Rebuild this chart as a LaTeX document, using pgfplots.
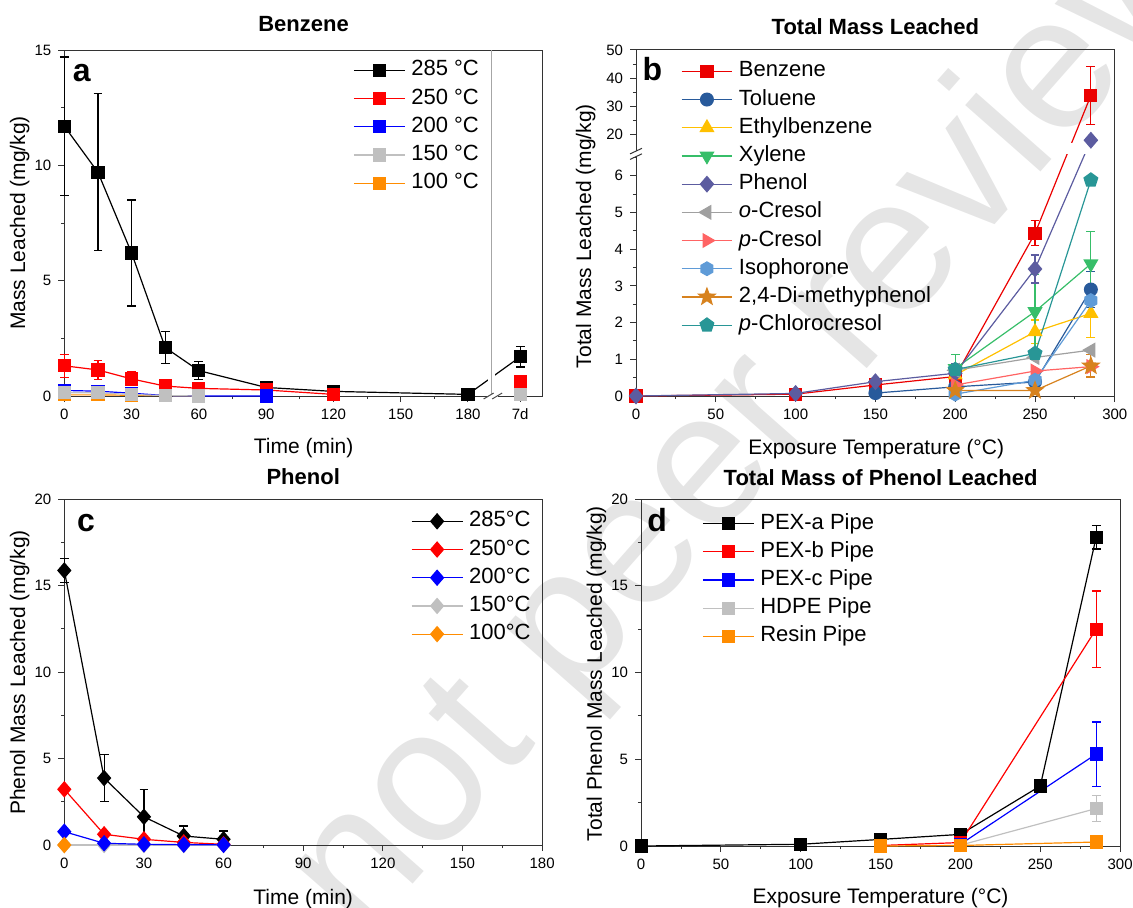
\documentclass[border=0pt]{standalone}
\usepackage{fontspec}
\setmainfont{Liberation Sans}
\usepackage{pgfplots}
\pgfplotsset{compat=1.18}
\usetikzlibrary{plotmarks}

\definecolor{c150}{RGB}{192,192,192}
\definecolor{c100}{RGB}{255,140,0}
\definecolor{cBen}{RGB}{235,0,0}
\definecolor{cTol}{RGB}{40,90,155}
\definecolor{cEth}{RGB}{255,192,0}
\definecolor{cXyl}{RGB}{55,190,105}
\definecolor{cPhe}{RGB}{92,92,160}
\definecolor{cOcr}{RGB}{160,160,160}
\definecolor{cPcr}{RGB}{255,100,100}
\definecolor{cIso}{RGB}{95,155,215}
\definecolor{cDmp}{RGB}{215,130,30}
\definecolor{cChl}{RGB}{40,150,150}
\definecolor{wm}{RGB}{229,229,229}

\pgfdeclareplotmark{hexagon*}{%
  \pgfpathmoveto{\pgfpointpolar{90}{\pgfplotmarksize}}%
  \pgfpathlineto{\pgfpointpolar{150}{\pgfplotmarksize}}%
  \pgfpathlineto{\pgfpointpolar{210}{\pgfplotmarksize}}%
  \pgfpathlineto{\pgfpointpolar{270}{\pgfplotmarksize}}%
  \pgfpathlineto{\pgfpointpolar{330}{\pgfplotmarksize}}%
  \pgfpathlineto{\pgfpointpolar{30}{\pgfplotmarksize}}%
  \pgfpathclose
  \pgfusepathqfillstroke}
\pgfdeclareplotmark{fstar}{%
  \pgfpathmoveto{\pgfpointpolar{90}{\pgfplotmarksize}}%
  \pgfpathlineto{\pgfpointpolar{126}{0.42\pgfplotmarksize}}%
  \pgfpathlineto{\pgfpointpolar{162}{\pgfplotmarksize}}%
  \pgfpathlineto{\pgfpointpolar{198}{0.42\pgfplotmarksize}}%
  \pgfpathlineto{\pgfpointpolar{234}{\pgfplotmarksize}}%
  \pgfpathlineto{\pgfpointpolar{270}{0.42\pgfplotmarksize}}%
  \pgfpathlineto{\pgfpointpolar{306}{\pgfplotmarksize}}%
  \pgfpathlineto{\pgfpointpolar{342}{0.42\pgfplotmarksize}}%
  \pgfpathlineto{\pgfpointpolar{18}{\pgfplotmarksize}}%
  \pgfpathlineto{\pgfpointpolar{54}{0.42\pgfplotmarksize}}%
  \pgfpathclose
  \pgfusepathqfillstroke}

\pgfplotsset{
  panel/.style={
    scale only axis, clip=false,
    axis line style={black!80, line width=0.5pt},
    tick pos=left, tick align=outside,
    major tick length=3pt, minor tick length=1.6pt,
    every tick/.style={black!80, line width=0.5pt},
    /pgf/number format/assume math mode=true,
    tick label style={font=\fontsize{7.5}{9}\selectfont},
    label style={font=\fontsize{10.5}{12}\selectfont},
    every axis title shift=0pt,
    title style={font=\bfseries\fontsize{11}{13}\selectfont, anchor=center},
    legend style={draw=none, fill=none, anchor=north west, inner sep=0pt,
      font=\fontsize{11}{13}\selectfont, row sep=2.4pt,
      nodes={inner sep=0.6pt, text height=8pt, text depth=2.5pt},
      /tikz/every odd column/.append style={column sep=2.4pt}},
    legend cell align=left,
    legend image code/.code={\draw[mark repeat=2,mark phase=2,##1] plot coordinates {(0pt,0pt) (12.7pt,0pt) (25.4pt,0pt)};},
    every axis plot/.append style={line width=0.6pt},
  },
  ser/.style={color=#1, mark options={solid, fill=#1}},
  eb/.style={error bars/y dir=both, error bars/y explicit,
    error bars/error bar style={line width=0.6pt},
    error bars/error mark options={rotate=90, mark size=2.2pt, line width=0.6pt}},
  % panel b: broken axis, 0-6.61 kept, 13.24-50 squeezed above it
  table/bt/.style={x=x,
    y expr={\thisrow{y}>10 ? 6.61+(\thisrow{y}-13.24)*0.07655 : \thisrow{y}},
    y error expr={\thisrow{y}>10 ? \thisrow{e}*0.07655 : \thisrow{e}},
    row sep=\\},
}

\begin{document}
\begin{tikzpicture}
\useasboundingbox (0,0) rectangle (566.5pt,453.5pt);
\node[rotate=48.6, anchor=base west, inner sep=0, text=wm, font=\fontsize{95}{95}\selectfont] at (181.2pt,-17.3pt) {not peer reviewed};

%% (a) Benzene
\begin{axis}[panel, at={(32.15pt,255.5pt)}, anchor=south west, width=239.3pt, height=173pt,
  xmin=0, xmax=213.4, ymin=0, ymax=15,
  xtick={0,30,60,90,120,150,180,203.3}, xticklabels={0,30,60,90,120,150,180,7d},
  minor xtick={15,45,75,105,135,165},
  ytick={0,5,10,15}, minor ytick={2.5,7.5,12.5},
  title={Benzene}, title style={at={(axis description cs:0.5,1.0757)}},
  xlabel={Time (min)}, xlabel style={at={(axis description cs:0.5,-0.151)}, anchor=center},
  ylabel={Mass Leached (mg/kg)}, ylabel style={at={(axis description cs:-0.0934,0.5)}, anchor=center},
  legend style={at={(0.603,0.976)}},
]
\addlegendimage{ser=black, mark=square*, mark size=3pt}\addlegendentry{285 °C}
\addlegendimage{ser=red, mark=square*, mark size=3pt}\addlegendentry{250 °C}
\addlegendimage{ser=blue, mark=square*, mark size=3pt}\addlegendentry{200 °C}
\addlegendimage{ser=c150, mark=square*, mark size=3pt}\addlegendentry{150 °C}
\addlegendimage{ser=c100, mark=square*, mark size=3pt}\addlegendentry{100 °C}

\addplot[forget plot, ser=c100, mark=square*, mark size=3pt] table[row sep=\\] {
x y\\ 0 0.05\\ 15 0.05\\ 30 0.03\\ 45 0.02\\ 60 0\\};
\addplot[forget plot, ser=black, mark=square*, mark size=3pt, eb] table[x=x, y=y, y error=e, row sep=\\] {
x y e\\
0 11.7 3.0\\
15 9.7 3.4\\
30 6.2 2.3\\
45 2.1 0.7\\
60 1.1 0.4\\
90 0.37 0\\
120 0.2 0\\
180 0.07 0\\
203.3 1.7 0.44\\};
\addplot[forget plot, ser=red, mark=square*, mark size=3pt, eb] table[x=x, y=y, y error=e, row sep=\\] {
x y e\\
0 1.31 0.5\\
15 1.13 0.42\\
30 0.74 0.3\\
45 0.43 0\\
60 0.33 0\\
90 0.26 0\\
120 0.07 0\\};
\addplot[forget plot, ser=blue, mark=square*, mark size=3pt] table[row sep=\\] {
x y\\ 0 0.24\\ 15 0.21\\ 30 0.12\\ 45 0.02\\ 60 0\\ 90 0\\};
\addplot[forget plot, ser=c150, mark=square*, mark size=3pt] table[row sep=\\] {
x y\\ 0 0.14\\ 15 0.14\\ 30 0.065\\ 45 0.02\\ 60 0\\};
\addplot[forget plot, only marks, ser=blue, mark=square*, mark size=3pt] table[row sep=\\] {x y\\ 203.3 0.12\\};
\addplot[forget plot, only marks, ser=c150, mark=square*, mark size=3pt] table[row sep=\\] {x y\\ 203.3 0.05\\};
\addplot[forget plot, only marks, ser=red, mark=square*, mark size=3pt] table[row sep=\\] {x y\\ 203.3 0.62\\};
% axis break
\fill[white] (axis cs:188.8,0.5) rectangle (axis cs:192.2,1.1);
\draw[black!35, line width=0.5pt] (axis cs:190.5,0) -- (axis cs:190.5,15);
\draw[white, line width=2pt] (axis cs:188.6,0) -- (axis cs:193.6,0);
\draw[black!70, line width=0.5pt] ([shift={(-2.5pt,-1.5pt)}]axis cs:189.2,0) -- ++(5pt,3pt);
\draw[black!70, line width=0.5pt] ([shift={(-2.5pt,-1.5pt)}]axis cs:193,0) -- ++(5pt,3pt);
\node[anchor=base west, inner sep=0, font=\bfseries\fontsize{16}{16}\selectfont] at (axis description cs:0.017,0.908) {a};
\end{axis}

%% (b) Total Mass Leached
\begin{axis}[panel, at={(318pt,255.5pt)}, anchor=south west, width=239.4pt, height=173pt,
  xmin=0, xmax=300, ymin=0, ymax=9.424,
  xtick={0,50,...,300}, minor xtick={25,75,...,275},
  ytick={0,1,2,3,4,5,6,7.127,7.893,8.658,9.424}, yticklabels={0,1,2,3,4,5,6,20,30,40,50},
  minor ytick={0.5,1.5,2.5,3.5,4.5,5.5,6.5,7.510,8.275,9.041},
  title={Total Mass Leached}, title style={at={(axis description cs:0.5,1.067)}},
  xlabel={Exposure Temperature (°C)}, xlabel style={at={(axis description cs:0.5016,-0.153)}, anchor=center},
  ylabel={Total Mass Leached (mg/kg)}, ylabel style={at={(axis description cs:-0.105,0.462)}, anchor=center},
  legend style={at={(0.093,0.9733)}},
]
\addplot[ser=cBen, mark=square*, mark size=3pt, eb] table[bt] {
x y e\\ 0 0 0\\ 100 0.05 0\\ 150 0.30 0\\ 200 0.53 0\\ 250 4.43 0.34\\ 285 33.8 10.2\\};
\addlegendentry{Benzene}
\addplot[ser=cTol, mark=*, mark size=3.2pt, eb] table[bt] {
x y e\\ 150 0.08 0\\ 200 0.25 0\\ 250 0.38 0\\ 285 2.90 0.5\\};
\addlegendentry{Toluene}
\addplot[ser=cEth, mark=triangle*, mark size=3.8pt, eb] table[bt] {
x y e\\ 200 0.57 0\\ 250 1.75 0.32\\ 285 2.25 0.65\\};
\addlegendentry{Ethylbenzene}
\addplot[ser=cXyl, mark=triangle*, mark size=3.8pt, mark options={solid, fill=cXyl, rotate=180}, eb] table[bt] {
x y e\\ 200 0.75 0.37\\ 250 2.30 1.0\\ 285 3.60 0.88\\};
\addlegendentry{Xylene}
\addplot[ser=cPhe, mark=diamond*, mark size=3.8pt, mark options={solid, fill=cPhe, xscale=1.15}, eb] table[bt] {
x y e\\ 0 0 0\\ 100 0.07 0\\ 150 0.39 0\\ 200 0.62 0.25\\ 250 3.46 0.38\\ 285 17.9 0\\};
\addlegendentry{Phenol}
\addplot[ser=cOcr, mark=triangle*, mark size=3.8pt, mark options={solid, fill=cOcr, rotate=90}] table[bt] {
x y e\\ 200 0.70 0\\ 250 1.05 0\\ 285 1.25 0\\};
\addlegendentry{\textit{o}-Cresol}
\addplot[ser=cPcr, mark=triangle*, mark size=3.8pt, mark options={solid, fill=cPcr, rotate=-90}] table[bt] {
x y e\\ 200 0.30 0\\ 250 0.68 0\\ 285 0.80 0\\};
\addlegendentry{\textit{p}-Cresol}
\addplot[ser=cIso, mark=hexagon*, mark size=3.4pt] table[bt] {
x y e\\ 200 0.05 0\\ 250 0.43 0\\ 285 2.60 0\\};
\addlegendentry{Isophorone}
\addplot[ser=cDmp, mark=fstar, mark size=4.3pt, eb] table[bt] {
x y e\\ 200 0.15 0\\ 250 0.15 0\\ 285 0.82 0.3\\};
\addlegendentry{2,4-Di-methyphenol}
\addplot[ser=cChl, mark=pentagon*, mark size=3.6pt] table[bt] {
x y e\\ 200 0.72 0\\ 250 1.16 0\\ 285 5.88 0\\};
\addlegendentry{\textit{p}-Chlorocresol}
% axis break
\fill[white] (axis cs:262,6.6) rectangle (axis cs:298,6.9);
\draw[white, line width=2pt] (axis cs:0,6.52) -- (axis cs:0,6.67);
\draw[black!80, line width=0.5pt] ([shift={(-3pt,-1.4pt)}]axis cs:0,6.52) -- ++(6pt,2.8pt);
\draw[black!80, line width=0.5pt] ([shift={(-3pt,-1.4pt)}]axis cs:0,6.67) -- ++(6pt,2.8pt);
\node[anchor=base west, inner sep=0, font=\bfseries\fontsize{16}{16}\selectfont] at (axis description cs:0.013,0.913) {b};
\end{axis}

%% (c) Phenol
\begin{axis}[panel, at={(32.15pt,31pt)}, anchor=south west, width=238.9pt, height=173pt,
  xmin=0, xmax=180, ymin=0, ymax=20,
  xtick={0,30,...,180}, minor xtick={15,45,...,165},
  ytick={0,5,...,20}, minor ytick={2.5,7.5,...,17.5},
  title={Phenol}, title style={at={(axis description cs:0.5,1.0645)}},
  xlabel={Time (min)}, xlabel style={at={(axis description cs:0.5,-0.155)}, anchor=center},
  ylabel={Phenol Mass Leached (mg/kg)}, ylabel style={at={(axis description cs:-0.0936,0.4986)}, anchor=center},
  legend style={at={(0.725,0.9705)}},
]
\addlegendimage{ser=black, mark=diamond*, mark size=3.7pt, mark options={solid, fill=black, xscale=1.15}}\addlegendentry{285°C}
\addlegendimage{ser=red, mark=diamond*, mark size=3.7pt, mark options={solid, fill=red, xscale=1.15}}\addlegendentry{250°C}
\addlegendimage{ser=blue, mark=diamond*, mark size=3.7pt, mark options={solid, fill=blue, xscale=1.15}}\addlegendentry{200°C}
\addlegendimage{ser=c150, mark=diamond*, mark size=3.7pt, mark options={solid, fill=c150, xscale=1.15}}\addlegendentry{150°C}
\addlegendimage{ser=c100, mark=diamond*, mark size=3.7pt, mark options={solid, fill=c100, xscale=1.15}}\addlegendentry{100°C}

\addplot[forget plot, ser=c150, mark=diamond*, mark size=3.7pt, mark options={solid, fill=c150, xscale=1.15}] table[row sep=\\] {
x y\\ 0 0\\ 15 0\\ 30 0\\ 45 0\\ 60 0\\};
\addplot[forget plot, ser=black, mark=diamond*, mark size=3.7pt, mark options={solid, fill=black, xscale=1.15}, eb] table[x=x, y=y, y error=e, row sep=\\] {
x y e\\ 0 15.87 0.7\\ 15 3.87 1.35\\ 30 1.63 1.6\\ 45 0.52 0.58\\ 60 0.33 0.48\\};
\addplot[forget plot, ser=red, mark=diamond*, mark size=3.7pt, mark options={solid, fill=red, xscale=1.15}] table[row sep=\\] {
x y\\ 0 3.22\\ 15 0.62\\ 30 0.33\\ 45 0.15\\ 60 0.04\\};
\addplot[forget plot, ser=blue, mark=diamond*, mark size=3.7pt, mark options={solid, fill=blue, xscale=1.15}] table[row sep=\\] {
x y\\ 0 0.77\\ 15 0.1\\ 30 0.04\\ 45 0.02\\ 60 0.01\\};
\addplot[forget plot, only marks, ser=c100, mark=diamond*, mark size=3.7pt, mark options={solid, fill=c100, xscale=1.15}] table[row sep=\\] {
x y\\ 0 0\\};
\node[anchor=base west, inner sep=0, font=\bfseries\fontsize{16}{16}\selectfont] at (axis description cs:0.026,0.9055) {c};
\end{axis}

%% (d) Total Mass of Phenol Leached
\begin{axis}[panel, at={(320.55pt,30.5pt)}, anchor=south west, width=239.5pt, height=173.5pt,
  xmin=0, xmax=300, ymin=0, ymax=20,
  xtick={0,50,...,300}, minor xtick={25,75,...,275},
  ytick={0,5,...,20}, minor ytick={2.5,7.5,...,17.5},
  title={Total Mass of Phenol Leached}, title style={at={(axis description cs:0.5,1.063)}},
  xlabel={Exposure Temperature (°C)}, xlabel style={at={(axis description cs:0.5,-0.151)}, anchor=center},
  ylabel={Total Phenol Mass Leached (mg/kg)}, ylabel style={at={(axis description cs:-0.093,0.497)}, anchor=center},
  legend style={at={(0.127,0.964)}},
]
\addplot[ser=black, mark=square*, mark size=3pt, eb] table[x=x, y=y, y error=e, row sep=\\] {
x y e\\ 0 0 0\\ 100 0.1 0\\ 150 0.38 0\\ 200 0.67 0\\ 250 3.46 0.2\\ 285 17.8 0.68\\};
\addlegendentry{PEX-a Pipe}
\addplot[ser=red, mark=square*, mark size=3pt, eb] table[x=x, y=y, y error=e, row sep=\\] {
x y e\\ 150 0.03 0\\ 200 0.2 0\\ 285 12.5 2.2\\};
\addlegendentry{PEX-b Pipe}
\addplot[ser=blue, mark=square*, mark size=3pt, eb] table[x=x, y=y, y error=e, row sep=\\] {
x y e\\ 200 0.1 0\\ 285 5.3 1.85\\};
\addlegendentry{PEX-c Pipe}
\addplot[ser=c150, mark=square*, mark size=3pt, eb] table[x=x, y=y, y error=e, row sep=\\] {
x y e\\ 200 0.05 0\\ 285 2.16 0.77\\};
\addlegendentry{HDPE Pipe}
\addplot[ser=c100, mark=square*, mark size=3pt] table[row sep=\\] {
x y\\ 150 0\\ 200 0.03\\ 285 0.23\\};
\addlegendentry{Resin Pipe}
\node[anchor=base west, inner sep=0, font=\bfseries\fontsize{16}{16}\selectfont] at (axis description cs:0.012,0.906) {d};
\end{axis}
\end{tikzpicture}
\end{document}
